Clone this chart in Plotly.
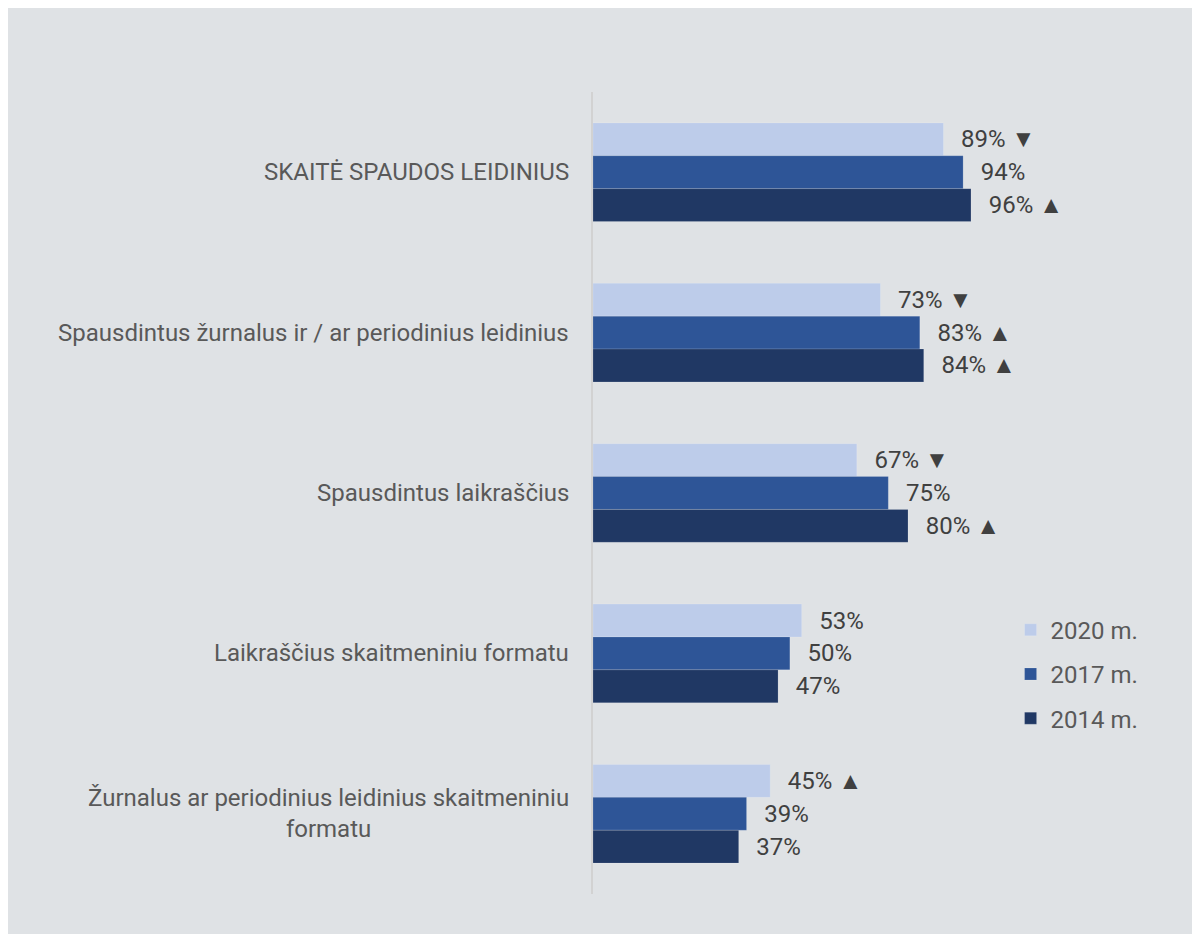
import plotly.graph_objects as go

categories = [
    "SKAITĖ SPAUDOS LEIDINIUS",
    "Spausdintus žurnalus ir / ar periodinius leidinius",
    "Spausdintus laikraščius",
    "Laikraščius skaitmeniniu formatu",
    "Žurnalus ar periodinius leidinius skaitmeniniu<br>formatu",
]
series_names = ["2020 m.", "2017 m.", "2014 m."]
values_2020 = [89, 73, 67, 53, 45]
values_2017 = [94, 83, 75, 50, 39]
values_2014 = [96, 84, 80, 47, 37]
trend_2020 = ["▼", "▼", "▼", "", "▲"]
trend_2017 = ["", "▲", "", "", ""]
trend_2014 = ["▲", "▲", "▲", "", ""]

colors = ["#BDCCEA", "#2E5597", "#203864"]
BG = "#DFE2E5"
FONT = "Roboto"

fig = go.Figure()
for name, vals, trends, col in zip(series_names,
                                   [values_2020, values_2017, values_2014],
                                   [trend_2020, trend_2017, trend_2014],
                                   colors):
    texts = ["\u2002\u200a" + f"{v}%" + (" " + t if t else "") for v, t in zip(vals, trends)]
    fig.add_trace(go.Bar(
        y=categories, x=vals, name=name, orientation="h",
        marker=dict(color=col, line=dict(width=1, color="rgba(255,255,255,0.15)")),
        text=texts, textposition="outside", cliponaxis=False,
        textfont=dict(family=FONT, size=24, color="#404040"),
        legendgroup=name, hoverinfo="skip",
    ))

for c in categories:
    fig.add_annotation(x=0, y=c, xref="x", yref="y", text=c, showarrow=False,
                       xanchor="right", xshift=-22, align="center",
                       font=dict(family=FONT, size=24, color="#595959"))

fig.update_layout(
    width=1200, height=934,
    paper_bgcolor=BG, plot_bgcolor=BG,
    margin=dict(l=585, r=208, t=84, b=48),
    barmode="group", bargap=0.385, bargroupgap=0,
    font=dict(family=FONT, color="#595959"),
    showlegend=True,
    legend=dict(x=1.026, y=0.357, xanchor="left", yanchor="top",
                font=dict(family=FONT, size=24, color="#595959"),
                tracegroupgap=10, bgcolor="rgba(0,0,0,0)"),
    xaxis=dict(range=[0, 103.37], showgrid=False, zeroline=False,
               showticklabels=False, showline=False, fixedrange=True),
    yaxis=dict(autorange="reversed", showgrid=False, zeroline=False,
               showticklabels=False, showline=True, linecolor="#D2D2D2",
               linewidth=1.5, ticks=""),
)

fig.write_html("out.html")
